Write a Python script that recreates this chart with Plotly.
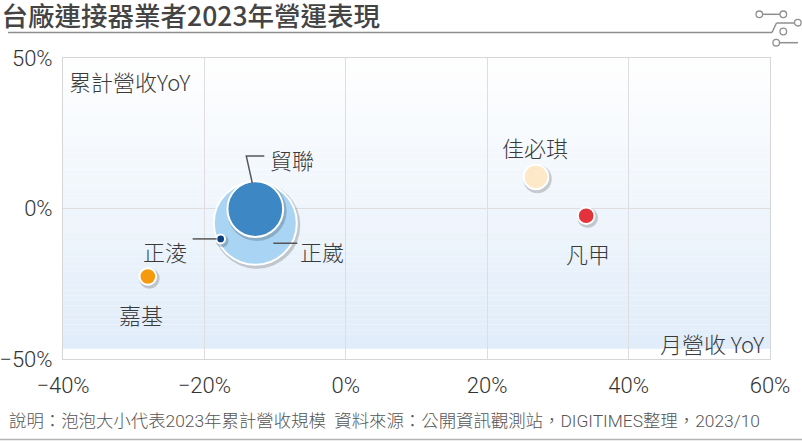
import numpy as np
import plotly.graph_objects as go

# ---------------- data ----------------
companies = ["正崴", "貿聯", "佳必琪", "凡甲", "嘉基", "正淩"]
monthly_yoy = [-12.8, -12.8, 26.9, 34.0, -28.0, -17.7]        # x, %
cumulative_yoy = [-4.9, -0.2, 10.5, -2.4, -22.6, -10.1]       # y, %
cumulative_revenue = [722, 325, 63, 29, 29, 8]                # bubble size (relative)

x_tickvals = [-40, -20, 0, 20, 40, 60]
x_ticktext = ["−40%", "−20%", "0%", "20%", "40%", "60%"]
y_tickvals = [-50, 0, 50]
y_ticktext = ["−50%", "0%", "50%"]

title_text = "台廠連接器業者2023年營運表現"
y_axis_title = "累計營收YoY"
x_axis_title = "月營收 YoY"
footer_text = "說明：泡泡大小代表2023年累計營收規模\u00a0\u00a0資料來源：公開資訊觀測站，DIGITIMES整理，2023/10"

# ---------------- styles ----------------
colors = {"正崴": "#a9d4f3", "貿聯": "#3d87c4", "佳必琪": "#fde8c7",
          "凡甲": "#e2323b", "嘉基": "#f59a0c", "正淩": "#0e3f80"}
# label offsets in pixels (dx, dy up)
label_offsets = {"正崴": (67, -28), "貿聯": (37, 50), "佳必琪": (-1, 30),
                 "凡甲": (2, -37), "嘉基": (-7, -37), "正淩": (-56, -12)}
# leader lines in pixels relative to the bubble
leaders = {"正崴": "M18,-20 L42,-20", "貿聯": "M-3,26 L-9,53 L9,53", "正淩": "M-28,0 L-4,0"}

W, H = 802, 441
L, R, T, B = 63, 32, 58, 82
PW, PH = W - L - R, H - T - B
XR, YR = [-40, 60], [-50, 50]
px_x = (XR[1] - XR[0]) / PW
px_y = (YR[1] - YR[0]) / PH

MAX_D = 83
diam = MAX_D * np.sqrt(np.array(cumulative_revenue, float) / max(cumulative_revenue))

CJK = "Noto Sans CJK TC"
fig = go.Figure()

# bubbles with shadow, biggest first
for i, name in enumerate(companies):
    fig.add_trace(go.Scatter(
        x=[monthly_yoy[i] + 1.5 * px_x], y=[cumulative_yoy[i] - 2.0 * px_y],
        mode="markers", hoverinfo="skip", showlegend=False,
        marker=dict(size=diam[i] + 4, color="rgba(0,0,0,0.18)", line=dict(width=0))))
    fig.add_trace(go.Scatter(
        x=[monthly_yoy[i]], y=[cumulative_yoy[i]], mode="markers", name=name,
        showlegend=False,
        marker=dict(size=diam[i], color=colors[name], opacity=1,
                    line=dict(width=2, color="white"))))

annotations = []
# labels
for i, name in enumerate(companies):
    dx, dy = label_offsets[name]
    annotations.append(dict(x=monthly_yoy[i], y=cumulative_yoy[i], xref="x", yref="y",
                            text=name, showarrow=False, xshift=dx, yshift=dy,
                            font=dict(family=CJK, size=22, color="#3a3a3a", weight=300)))

shapes = []
# gradient background
N = 60
y_top, y_bot = 50, -46.6
c0, c1 = np.array([255, 255, 255]), np.array([225, 237, 250])
for k in range(N):
    a = y_top - (y_top - y_bot) * k / N
    b = y_top - (y_top - y_bot) * (k + 1) / N
    c = c0 + (c1 - c0) * (k + 0.5) / N
    shapes.append(dict(type="rect", xref="x", yref="y", x0=XR[0], x1=XR[1], y0=b, y1=a,
                       fillcolor="rgb(%d,%d,%d)" % tuple(c.astype(int)),
                       line=dict(width=0), layer="below"))

# leader lines
for i, name in enumerate(companies):
    if name in leaders:
        shapes.append(dict(type="path", xref="x", yref="y", xsizemode="pixel", ysizemode="pixel",
                           xanchor=monthly_yoy[i], yanchor=cumulative_yoy[i],
                           path=leaders[name], line=dict(color="#555555", width=1.5)))

# decoration helpers (pixel -> paper)
def fx(p):
    return (p - L) / PW

def fy(p):
    return (H - B - p) / PH

deco = "#8f8f8f"
for x0, y0, x1, y1 in [(8, 32.5, 772, 32.5), (772, 32.5, 776.5, 23), (776.5, 23, 794.5, 23),
                       (762.5, 14.3, 780, 14.3), (779.5, 42.7, 798, 42.7)]:
    shapes.append(dict(type="line", xref="paper", yref="paper", x0=fx(x0), x1=fx(x1),
                       y0=fy(y0), y1=fy(y1), line=dict(color=deco, width=1.5)))
for cx, cy in [(797.8, 22.7), (759.3, 14.3), (783.3, 14.3), (783.3, 31.5), (776.2, 42.7)]:
    shapes.append(dict(type="circle", xref="paper", yref="paper",
                       x0=fx(cx - 3.3), x1=fx(cx + 3.3), y0=fy(cy + 3.3), y1=fy(cy - 3.3),
                       line=dict(color=deco, width=1.3), fillcolor="white"))
# footer line
shapes.append(dict(type="line", xref="paper", yref="paper", x0=fx(0), x1=fx(802), y0=fy(439.5), y1=fy(439.5),
                   line=dict(color="#b5b5b5", width=1.5)))

annotations += [
    dict(xref="paper", yref="paper", x=0, y=1, xanchor="left", yanchor="middle", xshift=4, yshift=-23,
         text=y_axis_title, showarrow=False, font=dict(family=CJK, size=22, color="#3a3a3a", weight=300)),
    dict(xref="paper", yref="paper", x=1, y=0, xanchor="right", yanchor="middle", xshift=-4, yshift=16,
         text=x_axis_title, showarrow=False, font=dict(family=CJK, size=22, color="#3a3a3a", weight=300)),
    dict(xref="paper", yref="paper", x=fx(7), y=fy(421), xanchor="left", yanchor="middle",
         text=footer_text, showarrow=False,
         font=dict(family="Roboto, " + CJK, size=17.4, color="#555555", weight=300)),
]

fig.update_layout(
    width=W, height=H, margin=dict(l=L, r=R, t=T, b=B, autoexpand=False),
    paper_bgcolor="white", plot_bgcolor="white",
    title=dict(text=title_text, x=0.002, xref="container", xanchor="left",
               y=1 - 17 / H, yref="container", yanchor="middle",
               font=dict(family=CJK, size=26.5, color="#444444", weight=500)),
    shapes=shapes, annotations=annotations, showlegend=False,
)

fig.update_xaxes(range=XR, tickvals=x_tickvals, ticktext=x_ticktext, showgrid=True,
                 gridcolor="#dedede", gridwidth=1, zeroline=False, showline=True, linecolor="#d6d6d6",
                 linewidth=1, mirror=True, ticks="", ticklabelstandoff=7,
                 tickfont=dict(family="Roboto", size=22, color="#333333", weight=300))
fig.update_yaxes(range=YR, tickvals=y_tickvals, ticktext=y_ticktext, showgrid=True,
                 gridcolor="#dedede", gridwidth=1, zeroline=False, showline=True, linecolor="#d6d6d6",
                 linewidth=1, mirror=True, ticks="", ticklabelstandoff=5,
                 tickfont=dict(family="Roboto", size=22, color="#333333", weight=300))

fig.write_html("out.html")
